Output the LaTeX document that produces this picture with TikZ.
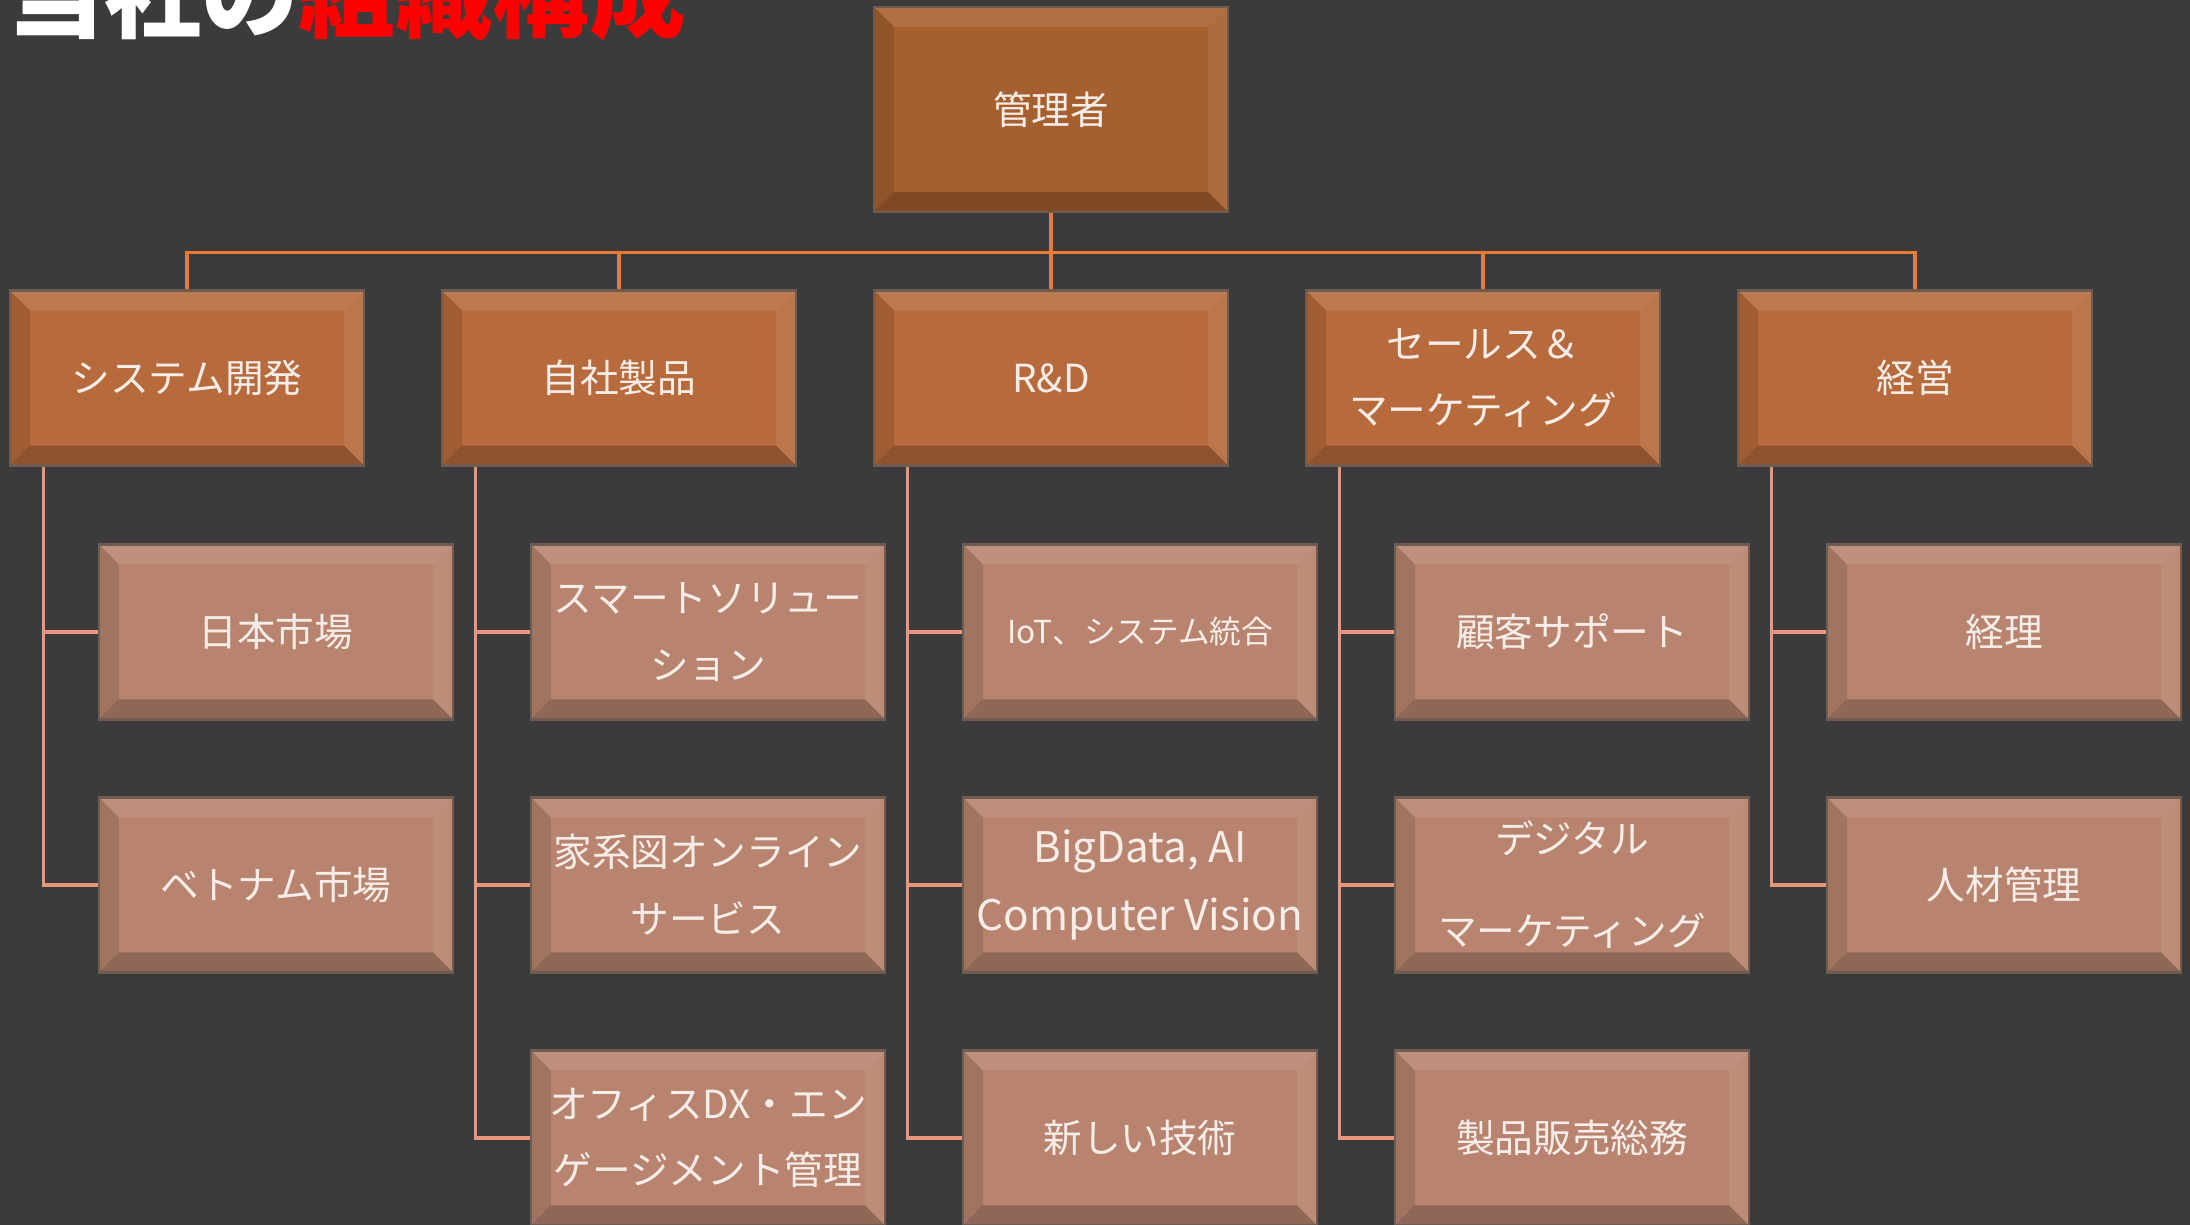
\documentclass[tikz,border=0pt]{standalone}
\usepackage{fontspec}
\setmainfont{Noto Sans CJK JP}
\usepackage{tikz}
\usetikzlibrary{positioning}
\definecolor{bgc}{HTML}{3B3B3B}
\definecolor{rootc}{HTML}{A6602F}
\definecolor{topc}{HTML}{B76B3C}
\definecolor{subc}{HTML}{B8846F}
\definecolor{edgec}{HTML}{6E5C50}
\definecolor{busc}{HTML}{E97B35}
\definecolor{linkc}{HTML}{E8967C}
\definecolor{textc}{HTML}{F7EDE8}

\begin{document}
\begin{tikzpicture}
\tikzstyle{bevel}=[path picture={
  \fill[white,opacity=.10] (path picture bounding box.north west) -- (path picture bounding box.north east) -- ([shift={(-2mm,-2mm)}]path picture bounding box.north east) -- ([shift={(2mm,-2mm)}]path picture bounding box.north west) -- cycle;
  \fill[white,opacity=.08] (path picture bounding box.north east) -- (path picture bounding box.south east) -- ([shift={(-2mm,2mm)}]path picture bounding box.south east) -- ([shift={(-2mm,-2mm)}]path picture bounding box.north east) -- cycle;
  \fill[black,opacity=.22] (path picture bounding box.south west) -- (path picture bounding box.south east) -- ([shift={(-2mm,2mm)}]path picture bounding box.south east) -- ([shift={(2mm,2mm)}]path picture bounding box.south west) -- cycle;
  \fill[black,opacity=.12] (path picture bounding box.north west) -- (path picture bounding box.south west) -- ([shift={(2mm,2mm)}]path picture bounding box.south west) -- ([shift={(2mm,-2mm)}]path picture bounding box.north west) -- cycle;
}]
\tikzstyle{main}=[rectangle, minimum width=3.54cm, minimum height=1.75cm, fill=topc, draw=edgec, line width=0.8pt, text=textc, align=center, font=\fontsize{11}{19}\selectfont, bevel]
\tikzstyle{sub}=[main, fill=subc]
\tikzstyle{bus}=[draw=busc, line width=1pt, to path={(\tikztostart.south) -- ++(0,-0.39) -| (\tikztotarget.north)}]
\tikzstyle{link}=[draw=linkc, line width=1pt, to path={([xshift=0.35cm]\tikztostart.south west) |- (\tikztotarget.west)}]
  \path[use as bounding box, fill=bgc] (0,0) rectangle (21.9,-12.25);
  \node (title) [anchor=base west, inner sep=0pt, font=\fontsize{27.6}{30}\selectfont\bfseries] at (0.07,-0.31) {\textcolor{white}{当社の}\textcolor{red}{組織構成}};

  \node[main, fill=rootc, minimum height=2.05cm] (mgr) at (10.51,-1.095) {管理者};
  \node[main] (rd) [below=0.757cm of mgr] {R\&D};
  \node[main] (prod) [left=0.752cm of rd] {自社製品};
  \node[main] (sysdev) [left=0.752cm of prod] {システム開発};
  \node[main] (sales) [right=0.752cm of rd] {セールス＆\\マーケティング};
  \node[main] (mgmt) [right=0.752cm of sales] {経営};

  \node[sub] (jp) [below=0.76cm of sysdev, xshift=0.89cm] {日本市場};
  \node[sub] (vn) [below=0.752cm of jp] {ベトナム市場};
  \node[sub] (smart) [below=0.76cm of prod, xshift=0.89cm] {スマートソリュー\\ション};
  \node[sub] (family) [below=0.752cm of smart] {家系図オンライン\\サービス};
  \node[sub] (office) [below=0.752cm of family] {オフィスDX・エン\\ゲージメント管理};
  \node[sub, font=\fontsize{9}{15}\selectfont] (iot) [below=0.76cm of rd, xshift=0.89cm] {IoT、システム統合};
  \node[sub, font=\fontsize{12}{19.5}\selectfont] (bigdata) [below=0.752cm of iot] {BigData, AI\\Computer Vision};
  \node[sub] (newtech) [below=0.752cm of bigdata] {新しい技術};
  \node[sub] (support) [below=0.76cm of sales, xshift=0.89cm] {顧客サポート};
  \node[sub] (digital) [below=0.752cm of support] {デジタル\\[0.25cm]マーケティング};
  \node[sub] (salesadm) [below=0.752cm of digital] {製品販売総務};
  \node[sub] (acct) [below=0.76cm of mgmt, xshift=0.89cm] {経理};
  \node[sub] (hr) [below=0.752cm of acct] {人材管理};

  \path (mgr) edge[bus] (sysdev) edge[bus] (prod) edge[bus] (rd) edge[bus] (sales) edge[bus] (mgmt);
  \path (sysdev) edge[link] (jp) edge[link] (vn)
        (prod) edge[link] (smart) edge[link] (family) edge[link] (office)
        (rd) edge[link] (iot) edge[link] (bigdata) edge[link] (newtech)
        (sales) edge[link] (support) edge[link] (digital) edge[link] (salesadm)
        (mgmt) edge[link] (acct) edge[link] (hr);
\end{tikzpicture}
\end{document}
